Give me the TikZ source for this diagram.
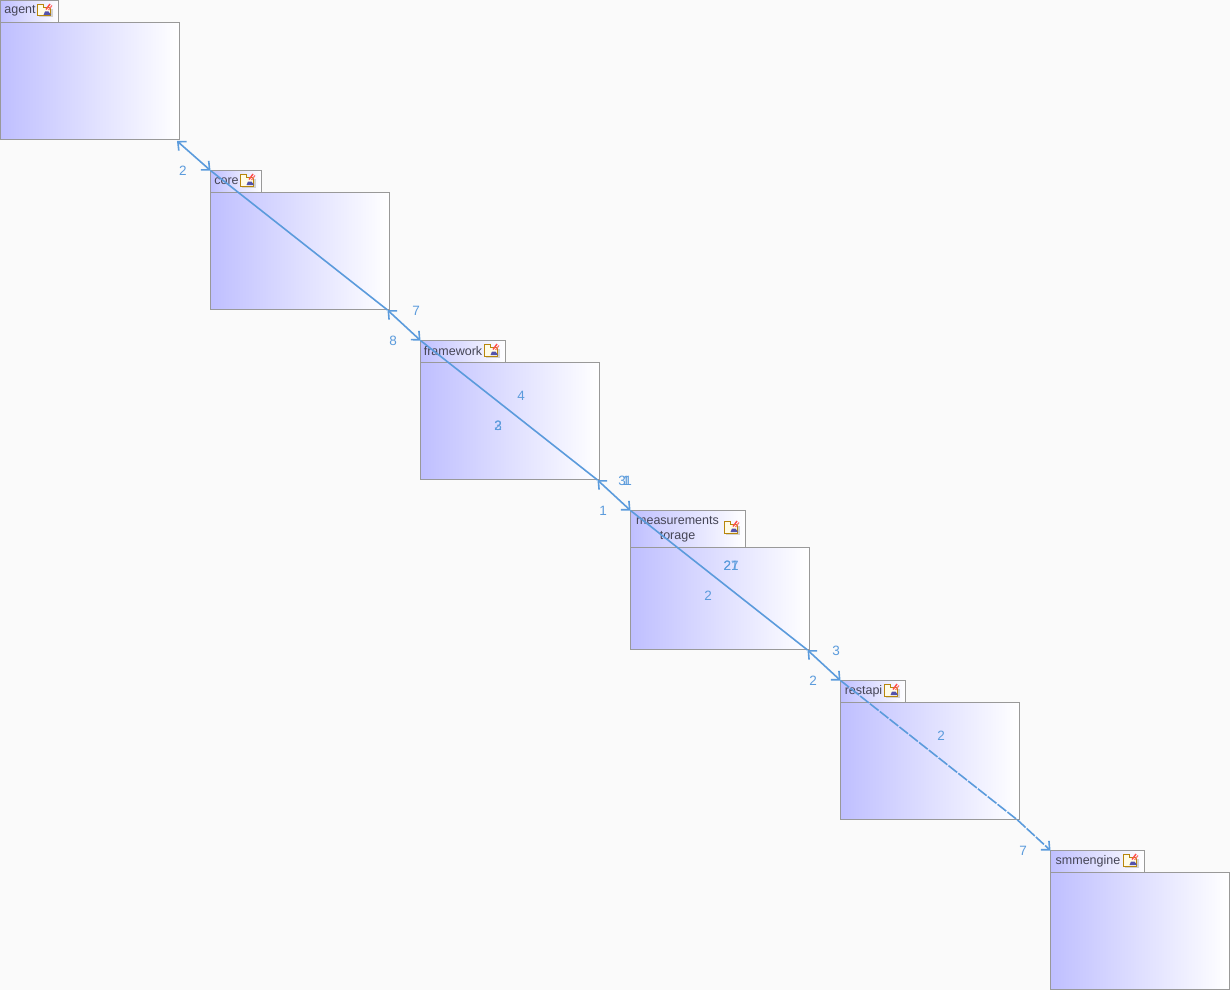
\documentclass[tikz,border=0pt]{standalone}
\usepackage{fontspec}
\setmainfont{Liberation Sans}
\usetikzlibrary{arrows.meta}
\definecolor{pagebg}{HTML}{FAFAFA}
\definecolor{pkgblue}{HTML}{BFBFFF}
\definecolor{pkgline}{HTML}{999999}
\definecolor{pkgtext}{HTML}{454555}
\definecolor{deplink}{HTML}{5B9BDC}
\definecolor{foldergold}{HTML}{B8860B}
\definecolor{folderfill}{HTML}{FFFBE6}
\tikzset{
  pkgbody/.style={draw=pkgline,line width=1pt,left color=pkgblue,right color=white,
    anchor=north west,inner sep=0pt,outer sep=0pt,minimum width=179pt},
  pkgtab/.style={pkgbody},
  pkgname/.style={text=pkgtext,inner sep=0pt,font=\fontsize{12.5}{15}\selectfont},
  deplabel/.style={text=deplink,inner sep=0pt,font=\fontsize{13.5}{15}\selectfont},
  depline/.style={draw=deplink,line width=1.6pt},
  dephead/.style={depline,{Straight Barb[length=6.5pt,width=12pt]}-{Straight Barb[length=6.5pt,width=12pt]}},
  depdash/.style={dash pattern=on 11pt off 1.5pt}
}
% small folder mark of a package tab
\newcommand{\pkgicon}[2]{
  \begin{scope}[shift={(#1,#2)}]
    \fill[gray!35] (2,12.5) rectangle (15.5,14.5);
    \fill[gray!35] (13.5,6) rectangle (15.5,14.5);
    \draw[foldergold,line width=1pt,fill=folderfill] (0.5,1.5) -- (6,1.5) -- (6,4.5) -- (13,4.5) -- (13,13) -- (0.5,13) -- cycle;
    \draw[red!70!white,line width=1.4pt] (9,6.5) -- (13,1);
    \draw[red!55!white,line width=1.2pt] (11.5,7) -- (15,2.5);
    \fill[blue!35!gray] (6.5,12) -- (8,8.5) -- (11.5,8.5) -- (14,12) -- cycle;
  \end{scope}
}
\begin{document}
\begin{tikzpicture}[x=1pt,y=-1pt]
 \useasboundingbox (0,0) rectangle (1230,990);
 \fill[pagebg] (0,0) rectangle (1230,990);

 \node[pkgtab,minimum width=58pt,minimum height=22pt] (agenttab) at (0.5,0.5) {};
 \node[pkgbody,minimum height=117pt] (agentbody) at (0.5,22.5) {};
 \node[pkgname] (agentname) at (20,11) {agent};
 \pkgicon{37}{3}

 \node[pkgtab,minimum width=51pt,minimum height=22pt] (coretab) at (210.5,170.5) {};
 \node[pkgbody,minimum height=117pt] (corebody) at (210.5,192.5) {};
 \node[pkgname] (corename) at (226.5,181) {core};
 \pkgicon{240}{173}

 \node[pkgtab,minimum width=85pt,minimum height=22pt] (frameworktab) at (420.5,340.5) {};
 \node[pkgbody,minimum height=117pt] (frameworkbody) at (420.5,362.5) {};
 \node[pkgname] (frameworkname) at (453,351) {framework};
 \pkgicon{484}{343}

 \node[pkgtab,minimum width=115pt,minimum height=37pt] (storagetab) at (630.5,510.5) {};
 \node[pkgbody,minimum height=102pt] (storagebody) at (630.5,547.5) {};
 \node[pkgname,align=center] (storagename) at (677.5,529.5) {measurements\\torage};
 \pkgicon{724}{520}

 \node[pkgtab,minimum width=65pt,minimum height=22pt] (restapitab) at (840.5,680.5) {};
 \node[pkgbody,minimum height=117pt] (restapibody) at (840.5,702.5) {};
 \node[pkgname] (restapiname) at (863.5,691) {restapi};
 \pkgicon{884}{683}

 \node[pkgtab,minimum width=94pt,minimum height=22pt] (smmenginetab) at (1050.5,850.5) {};
 \node[pkgbody,minimum height=117pt] (smmenginebody) at (1050.5,872.5) {};
 \node[pkgname] (smmenginename) at (1088,861) {smmengine};
 \pkgicon{1123}{853}

 % links between the packages
 \coordinate (agentend) at ([shift={(-2.5,1.5)}]agentbody.south east);
 \coordinate (coreend) at ([shift={(-2,0.5)}]corebody.south east);
 \coordinate (frameworkend) at ([shift={(-2,0.5)}]frameworkbody.south east);
 \coordinate (storageend) at ([shift={(-2,0.5)}]storagebody.south east);
 \coordinate (restapiend) at ([shift={(-2,0.5)}]restapibody.south east);
 \draw[dephead] (agentend) -- (coretab.north west);
 \draw[depline] (coretab.north west) -- (coreend);
 \draw[dephead] (coreend) -- (frameworktab.north west);
 \draw[depline] (frameworktab.north west) -- (frameworkend);
 \draw[dephead] (frameworkend) -- (storagetab.north west);
 \draw[depline] (storagetab.north west) -- (storageend);
 \draw[dephead] (storageend) -- (restapitab.north west);
 \draw[depline,depdash] (restapitab.north west) -- (restapiend);
 \draw[depline,depdash,-{Straight Barb[length=6.5pt,width=12pt]}] (restapiend) -- (smmenginetab.north west);

 \node[deplabel] (n1) at (183,170.5) {2};
 \node[deplabel] (n2) at (416,310.5) {7};
 \node[deplabel] (n3) at (393,340.5) {8};
 \node[deplabel] (n4) at (521,395.5) {4};
 \node[deplabel] (n5) at (498,425.5) {2};
 \node[deplabel] (n6) at (498,425.5) {3};
 \node[deplabel] (n7) at (622,480.5) {3};
 \node[deplabel] (n8) at (626,480.5) {1};
 \node[deplabel] (n9) at (628,480.5) {1};
 \node[deplabel] (n10) at (603,510.5) {1};
 \node[deplabel] (n11) at (731,565.5) {21};
 \node[deplabel] (n12) at (731,565.5) {27};
 \node[deplabel] (n13) at (708,595.5) {2};
 \node[deplabel] (n14) at (836,650.5) {3};
 \node[deplabel] (n15) at (813,680.5) {2};
 \node[deplabel] (n16) at (941,735.5) {2};
 \node[deplabel] (n17) at (1023,850.5) {7};
\end{tikzpicture}
\end{document}
